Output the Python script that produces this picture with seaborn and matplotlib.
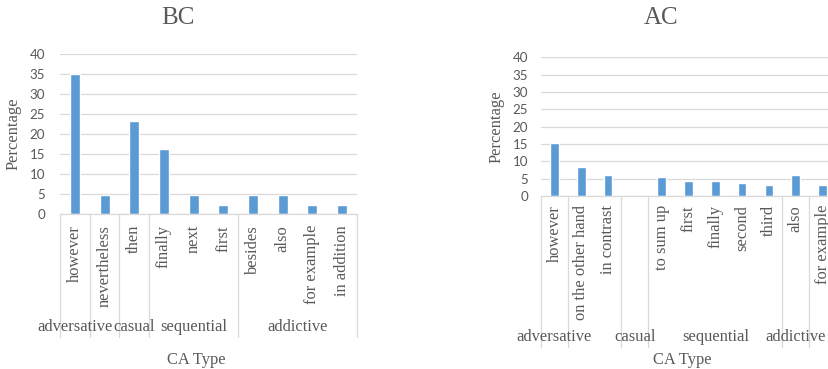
import numpy as np
import pandas as pd
import matplotlib
matplotlib.use("Agg")
import matplotlib.pyplot as plt
import matplotlib.transforms as mtransforms
import seaborn as sns

# ---------------- data ----------------
bc_words = ["however", "nevertheless", "then", "finally", "next", "first",
            "besides", "also", "for example", "in addition"]
bc_values = [34.9, 4.7, 23.3, 16.3, 4.7, 2.3, 4.7, 4.7, 2.3, 2.3]
bc_group_labels = ["adversative", "", "casual", "sequential", "addictive"]
bc_group_sizes = [1, 1, 1, 3, 4]

ac_words = ["however", "on the other hand", "in contrast", " ", "to sum up",
            "first", "finally", "second", "third", "also", "for example"]
ac_values = [15.2, 8.5, 6.0, np.nan, 5.4, 4.4, 4.4, 3.8, 3.2, 6.0, 3.2]
ac_group_labels = ["adversative", "", "casual", "sequential", "addictive", ""]
ac_group_sizes = [1, 2, 1, 5, 1, 1]

y_ticks = [0, 5, 10, 15, 20, 25, 30, 35, 40]

# ---------------- style ----------------
sns.set_theme(style="white")
plt.rcParams["font.family"] = ["Liberation Serif", "DejaVu Serif"]

W, H = 829, 369
fig = plt.figure(figsize=(W / 100, H / 100), dpi=100)
fig.patch.set_facecolor("white")

BAR = "#5B9BD5"
GRID = "#D9D9D9"
TXT = "#595959"
FS = 11.9


def fx(px):
    return px / W


def fy(py):
    return 1 - py / H


def draw_chart(left, top, width, height, words, values, glabels, gsizes,
               title, title_xy, ylab_xy, lab_top, grp_y, line_bottom,
               xlab_xy, tick_pad, bar_w):
    ax = fig.add_axes([fx(left), fy(top + height), fx(width), height / H])
    df = pd.DataFrame({"word": words, "pct": values})
    sns.barplot(data=df, x="word", y="pct", order=words, color=BAR,
                saturation=1, width=bar_w, errorbar=None, ax=ax)
    ax.set_xlim(-0.5, len(words) - 0.5)
    ax.set_ylim(0, 40)
    ax.set_yticks(y_ticks)
    ax.set_yticklabels([str(v) for v in y_ticks], family="Lato",
                       fontsize=9.6, color=TXT)
    ax.tick_params(axis="y", length=0, pad=tick_pad)
    ax.set_xticks([])
    ax.set_xlabel("")
    ax.set_ylabel("")
    for s in ["left", "right", "top"]:
        ax.spines[s].set_visible(False)
    ax.spines["bottom"].set_color(GRID)
    ax.spines["bottom"].set_linewidth(0.9)
    ax.yaxis.grid(True, color=GRID, linewidth=0.9)
    ax.set_axisbelow(True)

    tr = mtransforms.blended_transform_factory(ax.transData, fig.transFigure)
    # first-level labels
    for i, w in enumerate(words):
        ax.text(i, fy(lab_top), w, rotation=90, ha="center", va="top",
                fontsize=FS, color=TXT, transform=tr)
    # separators and group labels
    bounds = np.concatenate([[0], np.cumsum(gsizes)]) - 0.5
    for b in bounds:
        ax.plot([b, b], [fy(top + height), fy(line_bottom)], color=GRID,
                linewidth=0.9, transform=tr, clip_on=False)
    for lab, a, b in zip(glabels, bounds[:-1], bounds[1:]):
        if lab:
            ax.text((a + b) / 2, fy(grp_y), lab, ha="center", va="center",
                    fontsize=FS, color=TXT, transform=tr)
    fig.text(fx(title_xy[0]), fy(title_xy[1]), title, ha="center",
             va="center", fontsize=18, color=TXT)
    fig.text(fx(ylab_xy[0]), fy(ylab_xy[1]), "Percentage", rotation=90,
             ha="center", va="center", fontsize=FS, color=TXT)
    fig.text(fx(xlab_xy[0]), fy(xlab_xy[1]), "CA Type", ha="center",
             va="center", fontsize=FS, color=TXT)
    return ax


draw_chart(60, 54, 297, 160, bc_words, bc_values, bc_group_labels,
           bc_group_sizes, "BC", (178, 18), (14, 134), 225, 327, 337,
           (196, 360), 10.8, 0.34)
draw_chart(541, 57.3, 295, 138.7, ac_words, ac_values, ac_group_labels,
           ac_group_sizes, "AC", (661, 18), (497, 127), 205, 337, 347,
           (682, 360), 9.4, 0.32)

fig.savefig("out.png", dpi=100, facecolor="white")
